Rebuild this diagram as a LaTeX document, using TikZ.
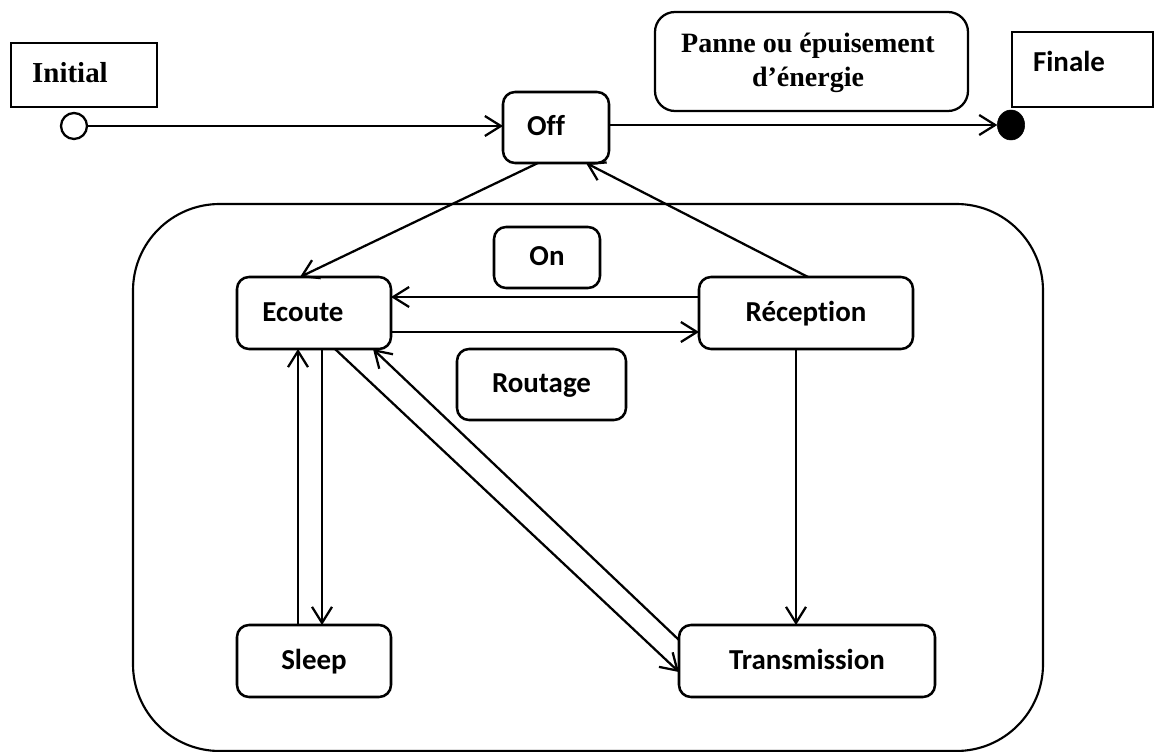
\documentclass[tikz,border=0pt]{standalone}
\usepackage{fontspec}
\setmainfont{Liberation Serif}
\newfontfamily\statefont[Ligatures=NoCommon]{Carlito}
\usetikzlibrary{arrows.meta,shapes.geometric}

\begin{document}
\begin{tikzpicture}[x=0.75pt,y=-0.75pt,
  statebox/.style={draw,line width=1.9pt,rounded corners=9pt,inner sep=0pt,outer sep=0pt,
    text height=14pt,text depth=1.8pt,
    font=\statefont\bfseries\fontsize{21.7pt}{26pt}\selectfont},
  textbox/.style={draw,line width=1.7pt,inner sep=0pt,outer sep=0pt},
  serifbold/.style={font=\bfseries\fontsize{21.7pt}{26pt}\selectfont,inner sep=0pt},
  link/.style={line width=1.7pt},
  arr/.style={link,-{Straight Barb[length=12pt,width=15pt]}}]

\useasboundingbox (0,0) rectangle (1154,752);

% enclosing super-state
\draw[line width=1.6pt,rounded corners=65pt] (133,204) rectangle (1043,751);

% pseudo-states
\node[draw,circle,line width=1.7pt,minimum size=19.5pt,inner sep=0pt,outer sep=0pt] (initc) at (74,126) {};
\node[draw,fill=black,ellipse,minimum width=20.5pt,minimum height=22.5pt,inner sep=0pt,outer sep=0pt] (finc) at (1011,125) {};

% comment boxes
\node[textbox,minimum width=109.5pt,minimum height=48pt] (initbox) at (84,75) {};
\node[serifbold] (inittxt) at (70,73) {Initial};
\node[textbox,minimum width=105.75pt,minimum height=56.25pt] (finbox) at (1082.5,69.5) {};
\node[statebox,draw=none] (fintxt) at (1069,63) {Finale};
\node[textbox,rounded corners=15pt,minimum width=234.75pt,minimum height=74.25pt] (panne) at (811.5,61.5) {};
\node[serifbold,font=\bfseries\fontsize{21pt}{25.5pt}\selectfont,align=center] (pannetxt) at (808,63)
  {Panne ou épuisement\\d’énergie};

% states
\node[statebox,minimum width=79.5pt,minimum height=53.25pt] (off) at (556,127.5) {Off\hspace*{15pt}};
\node[statebox,minimum width=115.5pt,minimum height=54pt] (ecoute) at (314,313) {Ecoute\hspace*{16.5pt}};
\node[statebox,minimum width=79.5pt,minimum height=45.75pt] (on) at (547,257.5) {On};
\node[statebox,minimum width=126.75pt,minimum height=53.25pt] (routage) at (541.5,384.5) {Routage};
\node[statebox,minimum width=160.5pt,minimum height=54pt] (reception) at (806,313) {Réception};
\node[statebox,minimum width=115.5pt,minimum height=54pt] (sleep) at (314,661) {Sleep};
\node[statebox,minimum width=192pt,minimum height=54pt] (transmission) at (807,661) {Transmission};

% transitions
\draw[arr] (initc.east) -- (initc -| off.west);
\draw[arr] (finc -| off.east) -- (finc.west);
\draw[arr] ([xshift=-13.5pt]off.south) -- ([xshift=-10.5pt]ecoute.north);
\draw[arr] ([xshift=1.5pt]reception.north) -- ([xshift=22.5pt]off.south);
\draw[arr] ([yshift=12pt]reception.west) -- ([yshift=12pt]ecoute.east);
\draw[arr] ([yshift=-14.25pt]ecoute.east) -- ([yshift=-14.25pt]reception.west);
\draw[arr] ([xshift=-7.5pt]reception.south) -- ([xshift=-7.5pt]reception.south |- transmission.north);
\draw[arr] ([xshift=-12pt]sleep.north) -- ([xshift=-12pt]ecoute.south);
\draw[arr] ([xshift=6pt]ecoute.south) -- ([xshift=6pt]sleep.north);
\draw[arr] ([xshift=15.75pt]ecoute.south) -- ([yshift=-8.25pt]transmission.west);
\draw[arr] ([yshift=15.75pt]transmission.west) -- ([xshift=44.25pt]ecoute.south);

\end{tikzpicture}
\end{document}
